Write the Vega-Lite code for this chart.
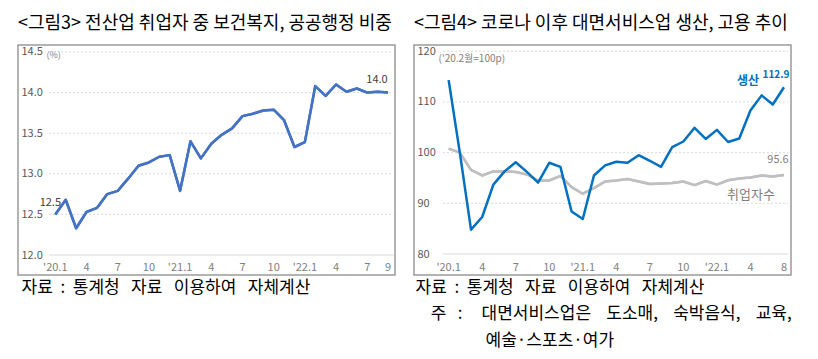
{
  "$schema": "https://vega.github.io/schema/vega-lite/v6.json",
  "autosize": {"type": "pad"},
  "padding": {"left": 17, "top": 14, "right": 28, "bottom": 10},
  "background": "white",
  "spacing": 19,
  "bounds": "flush",
  "config": {
    "font": "Noto Sans CJK KR",
    "view": {"stroke": "#9a9a9a", "strokeWidth": 1.5},
    "title": {"font": "Noto Sans CJK KR", "fontSize": 18, "fontWeight": "normal", "color": "#000000", "anchor": "start", "frame": "group", "baseline": "alphabetic", "offset": 12},
    "axis": {"labelFont": "Noto Sans CJK KR", "titleFont": "Noto Sans CJK KR", "domain": false, "ticks": false, "grid": false, "labelOverlap": false, "labelFlush": false}
  },
  "datasets": {
    "share": [
      {"t": 0, "v": 12.50}, {"t": 1, "v": 12.68}, {"t": 2, "v": 12.33}, {"t": 3, "v": 12.53},
      {"t": 4, "v": 12.58}, {"t": 5, "v": 12.75}, {"t": 6, "v": 12.79}, {"t": 7, "v": 12.94},
      {"t": 8, "v": 13.10}, {"t": 9, "v": 13.14}, {"t": 10, "v": 13.21}, {"t": 11, "v": 13.23},
      {"t": 12, "v": 12.79}, {"t": 13, "v": 13.40}, {"t": 14, "v": 13.19}, {"t": 15, "v": 13.37},
      {"t": 16, "v": 13.48}, {"t": 17, "v": 13.56}, {"t": 18, "v": 13.71}, {"t": 19, "v": 13.74},
      {"t": 20, "v": 13.78}, {"t": 21, "v": 13.79}, {"t": 22, "v": 13.66}, {"t": 23, "v": 13.33},
      {"t": 24, "v": 13.39}, {"t": 25, "v": 14.08}, {"t": 26, "v": 13.96}, {"t": 27, "v": 14.10},
      {"t": 28, "v": 14.01}, {"t": 29, "v": 14.05}, {"t": 30, "v": 14.00}, {"t": 31, "v": 14.01},
      {"t": 32, "v": 14.00}
    ],
    "trend": [
      {"t": 0, "s": "생산", "v": 114.3}, {"t": 1, "s": "생산", "v": 100.0}, {"t": 2, "s": "생산", "v": 84.8},
      {"t": 3, "s": "생산", "v": 87.3}, {"t": 4, "s": "생산", "v": 93.7}, {"t": 5, "s": "생산", "v": 96.3},
      {"t": 6, "s": "생산", "v": 98.1}, {"t": 7, "s": "생산", "v": 96.2}, {"t": 8, "s": "생산", "v": 94.1},
      {"t": 9, "s": "생산", "v": 98.0}, {"t": 10, "s": "생산", "v": 97.2}, {"t": 11, "s": "생산", "v": 88.4},
      {"t": 12, "s": "생산", "v": 86.9}, {"t": 13, "s": "생산", "v": 95.5}, {"t": 14, "s": "생산", "v": 97.5},
      {"t": 15, "s": "생산", "v": 98.2}, {"t": 16, "s": "생산", "v": 98.0}, {"t": 17, "s": "생산", "v": 99.5},
      {"t": 18, "s": "생산", "v": 98.4}, {"t": 19, "s": "생산", "v": 97.2}, {"t": 20, "s": "생산", "v": 101.1},
      {"t": 21, "s": "생산", "v": 102.2}, {"t": 22, "s": "생산", "v": 104.9}, {"t": 23, "s": "생산", "v": 102.7},
      {"t": 24, "s": "생산", "v": 104.5}, {"t": 25, "s": "생산", "v": 102.1}, {"t": 26, "s": "생산", "v": 102.8},
      {"t": 27, "s": "생산", "v": 108.3}, {"t": 28, "s": "생산", "v": 111.3}, {"t": 29, "s": "생산", "v": 109.5},
      {"t": 30, "s": "생산", "v": 112.9},
      {"t": 0, "s": "취업자수", "v": 100.8}, {"t": 1, "s": "취업자수", "v": 100.0}, {"t": 2, "s": "취업자수", "v": 96.6},
      {"t": 3, "s": "취업자수", "v": 95.5}, {"t": 4, "s": "취업자수", "v": 96.3}, {"t": 5, "s": "취업자수", "v": 96.3},
      {"t": 6, "s": "취업자수", "v": 96.2}, {"t": 7, "s": "취업자수", "v": 95.7}, {"t": 8, "s": "취업자수", "v": 94.5},
      {"t": 9, "s": "취업자수", "v": 94.5}, {"t": 10, "s": "취업자수", "v": 95.4}, {"t": 11, "s": "취업자수", "v": 93.2},
      {"t": 12, "s": "취업자수", "v": 91.9}, {"t": 13, "s": "취업자수", "v": 93.0}, {"t": 14, "s": "취업자수", "v": 94.3},
      {"t": 15, "s": "취업자수", "v": 94.5}, {"t": 16, "s": "취업자수", "v": 94.8}, {"t": 17, "s": "취업자수", "v": 94.3},
      {"t": 18, "s": "취업자수", "v": 93.8}, {"t": 19, "s": "취업자수", "v": 93.9}, {"t": 20, "s": "취업자수", "v": 94.0},
      {"t": 21, "s": "취업자수", "v": 94.3}, {"t": 22, "s": "취업자수", "v": 93.6}, {"t": 23, "s": "취업자수", "v": 94.4},
      {"t": 24, "s": "취업자수", "v": 93.7}, {"t": 25, "s": "취업자수", "v": 94.55}, {"t": 26, "s": "취업자수", "v": 94.9},
      {"t": 27, "s": "취업자수", "v": 95.1}, {"t": 28, "s": "취업자수", "v": 95.5}, {"t": 29, "s": "취업자수", "v": 95.3},
      {"t": 30, "s": "취업자수", "v": 95.6}
    ],
    "xlab3": [
      {"t": 0, "lab": "'20.1"}, {"t": 3, "lab": "4"}, {"t": 6, "lab": "7"}, {"t": 9, "lab": "10"},
      {"t": 12, "lab": "'21.1"}, {"t": 15, "lab": "4"}, {"t": 18, "lab": "7"}, {"t": 21, "lab": "10"},
      {"t": 24, "lab": "'22.1"}, {"t": 27, "lab": "4"}, {"t": 30, "lab": "7"}, {"t": 32, "lab": "9"}
    ],
    "xlab4": [
      {"t": 0, "lab": "'20.1"}, {"t": 3, "lab": "4"}, {"t": 6, "lab": "7"}, {"t": 9, "lab": "10"},
      {"t": 12, "lab": "'21.1"}, {"t": 15, "lab": "4"}, {"t": 18, "lab": "7"}, {"t": 21, "lab": "10"},
      {"t": 24, "lab": "'22.1"}, {"t": 27, "lab": "4"}, {"t": 30, "lab": "8"}
    ],
    "grid3": [{"v": 12.5}, {"v": 13.0}, {"v": 13.5}, {"v": 14.0}, {"v": 14.5}],
    "base3": [{"v": 12.0}],
    "grid4": [{"v": 90}, {"v": 100}, {"v": 110}, {"v": 120}],
    "base4": [{"v": 80}]
  },
  "hconcat": [
    {
      "width": 377,
      "height": 230,
      "title": {"text": "<그림3> 전산업 취업자 중 보건복지, 공공행정 비중"},
      "layer": [
        {
          "data": {"name": "share"},
          "mark": {"type": "line", "color": "#4472C4", "strokeWidth": 2.5, "strokeJoin": "round"},
          "encoding": {
            "x": {"field": "t", "type": "quantitative",
              "scale": {"domain": [-3.59, 32.67], "nice": false, "zero": false},
              "axis": {"orient": "bottom", "offset": -7, "values": [0], "labels": false,
                "title": "자료\u00a0\u00a0:\u00a0\u00a0통계청\u00a0\u00a0\u00a0자료\u00a0\u00a0\u00a0이용하여\u00a0\u00a0\u00a0자체계산",
                "titleAnchor": "start", "titleAlign": "left", "titleBaseline": "alphabetic",
                "titleX": 3, "titleY": 24, "titleFontSize": 17, "titleFontWeight": "normal", "titleColor": "#000000"}},
            "y": {"field": "v", "type": "quantitative",
              "scale": {"domain": [11.754, 14.586], "nice": false, "zero": false},
              "axis": {"orient": "left", "offset": -3, "values": [12, 12.5, 13, 13.5, 14, 14.5], "format": ".1f",
                "labelAlign": "left", "labelBaseline": "middle", "labelPadding": 0, "labelFontSize": 11, "labelColor": "#595959",
                "title": "(%)", "titleAngle": 0, "titleAlign": "left", "titleBaseline": "middle",
                "titleX": 25, "titleY": 9, "titleFontSize": 9, "titleFontWeight": "normal", "titleColor": "#808080"}}
          }
        },
        {
          "data": {"name": "grid3"},
          "mark": {"type": "rule", "color": "#d9d9d9", "strokeWidth": 1, "strokeDash": [2, 2]},
          "encoding": {
            "x": {"datum": -0.6, "type": "quantitative"},
            "x2": {"datum": 32.53},
            "y": {"field": "v", "type": "quantitative"}
          }
        },
        {
          "data": {"name": "base3"},
          "mark": {"type": "rule", "color": "#d9d9d9", "strokeWidth": 1},
          "encoding": {
            "x": {"datum": -0.6, "type": "quantitative"},
            "x2": {"datum": 32.53},
            "y": {"field": "v", "type": "quantitative"}
          }
        },
        {
          "data": {"name": "xlab3"},
          "mark": {"type": "text", "fontSize": 11, "color": "#808080", "baseline": "middle"},
          "encoding": {
            "x": {"field": "t", "type": "quantitative"},
            "y": {"datum": 11.84, "type": "quantitative"},
            "text": {"field": "lab", "type": "nominal"}
          }
        },
        {
          "data": {"name": "share"},
          "mark": {"type": "line", "color": "#4472C4", "strokeWidth": 2.5, "strokeJoin": "round"},
          "encoding": {
            "x": {"field": "t", "type": "quantitative"},
            "y": {"field": "v", "type": "quantitative"}
          }
        },
        {
          "data": {"name": "share"},
          "transform": [{"filter": "datum.t == 0"}],
          "mark": {"type": "text", "fontSize": 11, "color": "#404040", "dx": -5, "dy": -11},
          "encoding": {
            "x": {"field": "t", "type": "quantitative"},
            "y": {"field": "v", "type": "quantitative"},
            "text": {"field": "v", "type": "quantitative", "format": ".1f"}
          }
        },
        {
          "data": {"name": "share"},
          "transform": [{"filter": "datum.t == 32"}],
          "mark": {"type": "text", "fontSize": 11, "color": "#404040", "dx": -11, "dy": -13},
          "encoding": {
            "x": {"field": "t", "type": "quantitative"},
            "y": {"field": "v", "type": "quantitative"},
            "text": {"field": "v", "type": "quantitative", "format": ".1f"}
          }
        }
      ]
    },
    {
      "width": 377,
      "height": 230,
      "title": {"text": "<그림4> 코로나 이후 대면서비스업 생산, 고용 추이"},
      "layer": [
        {
          "data": {"name": "trend"},
          "transform": [{"filter": "datum.s == '취업자수'"}],
          "mark": {"type": "line", "color": "#BFBFBF", "strokeWidth": 2.5, "strokeJoin": "round"},
          "encoding": {
            "x": {"field": "t", "type": "quantitative",
              "scale": {"domain": [-3.1, 30.63], "nice": false, "zero": false},
              "axis": {"orient": "bottom", "offset": -7, "values": [0], "labels": false,
                "title": ["자료\u00a0\u00a0:\u00a0\u00a0통계청\u00a0\u00a0\u00a0자료\u00a0\u00a0\u00a0이용하여\u00a0\u00a0\u00a0자체계산", "\u200b\u00a0\u00a0\u00a0\u00a0주\u00a0\u00a0\u00a0:\u00a0\u00a0\u00a0\u00a0\u00a0대면서비스업은\u00a0\u00a0\u00a0\u00a0도소매,\u00a0\u00a0\u00a0\u00a0숙박음식,\u00a0\u00a0\u00a0\u00a0교육,", "\u200b\u3000\u3000\u3000\u00a0\u00a0\u00a0\u00a0\u00a0예술·스포츠·여가"],
                "titleAnchor": "start", "titleAlign": "left", "titleBaseline": "alphabetic", "titleLineHeight": 26.5,
                "titleX": 1, "titleY": 24, "titleFontSize": 17, "titleFontWeight": "normal", "titleColor": "#000000"}},
            "y": {"field": "v", "type": "quantitative",
              "scale": {"domain": [75.86, 121.24], "nice": false, "zero": false},
              "axis": {"orient": "left", "offset": -3, "values": [80, 90, 100, 110, 120],
                "labelAlign": "left", "labelBaseline": "middle", "labelPadding": 0, "labelFontSize": 11, "labelColor": "#595959",
                "title": "('20.2월=100p)", "titleAngle": 0, "titleAlign": "left", "titleBaseline": "middle",
                "titleX": 21, "titleY": 13, "titleFontSize": 10, "titleFontWeight": "normal", "titleColor": "#808080"}}
          }
        },
        {
          "data": {"name": "grid4"},
          "mark": {"type": "rule", "color": "#d9d9d9", "strokeWidth": 1, "strokeDash": [2, 2]},
          "encoding": {
            "x": {"datum": -0.51, "type": "quantitative"},
            "x2": {"datum": 30.38},
            "y": {"field": "v", "type": "quantitative"}
          }
        },
        {
          "data": {"name": "base4"},
          "mark": {"type": "rule", "color": "#d9d9d9", "strokeWidth": 1},
          "encoding": {
            "x": {"datum": -0.51, "type": "quantitative"},
            "x2": {"datum": 30.38},
            "y": {"field": "v", "type": "quantitative"}
          }
        },
        {
          "data": {"name": "xlab4"},
          "mark": {"type": "text", "fontSize": 11, "color": "#808080", "baseline": "middle"},
          "encoding": {
            "x": {"field": "t", "type": "quantitative"},
            "y": {"datum": 77.25, "type": "quantitative"},
            "text": {"field": "lab", "type": "nominal"}
          }
        },
        {
          "data": {"name": "trend"},
          "transform": [{"filter": "datum.s == '취업자수'"}],
          "mark": {"type": "line", "color": "#BFBFBF", "strokeWidth": 2.5, "strokeJoin": "round"},
          "encoding": {
            "x": {"field": "t", "type": "quantitative"},
            "y": {"field": "v", "type": "quantitative"}
          }
        },
        {
          "mark": {"type": "rule", "color": "#404040", "strokeWidth": 1.5},
          "encoding": {
            "x": {"datum": 0, "type": "quantitative"},
            "x2": {"datum": 30.63},
            "y": {"datum": 100, "type": "quantitative"}
          }
        },
        {
          "data": {"name": "trend"},
          "transform": [{"filter": "datum.s == '생산'"}],
          "mark": {"type": "line", "color": "#0070C0", "strokeWidth": 2.5, "strokeJoin": "round"},
          "encoding": {
            "x": {"field": "t", "type": "quantitative"},
            "y": {"field": "v", "type": "quantitative"}
          }
        },
        {
          "data": {"name": "trend"},
          "transform": [{"filter": "datum.t == 30 && datum.s == '생산'"}],
          "mark": {"type": "text", "fontSize": 10, "fontWeight": "bold", "color": "#0070C0", "dx": -8, "dy": -12},
          "encoding": {
            "x": {"field": "t", "type": "quantitative"},
            "y": {"field": "v", "type": "quantitative"},
            "text": {"field": "v", "type": "quantitative", "format": ".1f"}
          }
        },
        {
          "data": {"name": "trend"},
          "transform": [{"filter": "datum.t == 30 && datum.s == '생산'"}],
          "mark": {"type": "text", "fontSize": 12, "fontWeight": "bold", "color": "#0070C0", "dx": -36, "dy": -6},
          "encoding": {
            "x": {"field": "t", "type": "quantitative"},
            "y": {"field": "v", "type": "quantitative"},
            "text": {"field": "s", "type": "nominal"}
          }
        },
        {
          "data": {"name": "trend"},
          "transform": [{"filter": "datum.t == 30 && datum.s == '취업자수'"}],
          "mark": {"type": "text", "fontSize": 11, "color": "#7f7f7f", "dx": -6, "dy": -15},
          "encoding": {
            "x": {"field": "t", "type": "quantitative"},
            "y": {"field": "v", "type": "quantitative"},
            "text": {"field": "v", "type": "quantitative", "format": ".1f"}
          }
        },
        {
          "data": {"name": "trend"},
          "transform": [{"filter": "datum.t == 30 && datum.s == '취업자수'"}],
          "mark": {"type": "text", "fontSize": 13, "color": "#7f7f7f", "dx": -33, "dy": 20},
          "encoding": {
            "x": {"field": "t", "type": "quantitative"},
            "y": {"field": "v", "type": "quantitative"},
            "text": {"field": "s", "type": "nominal"}
          }
        }
      ]
    }
  ]
}
